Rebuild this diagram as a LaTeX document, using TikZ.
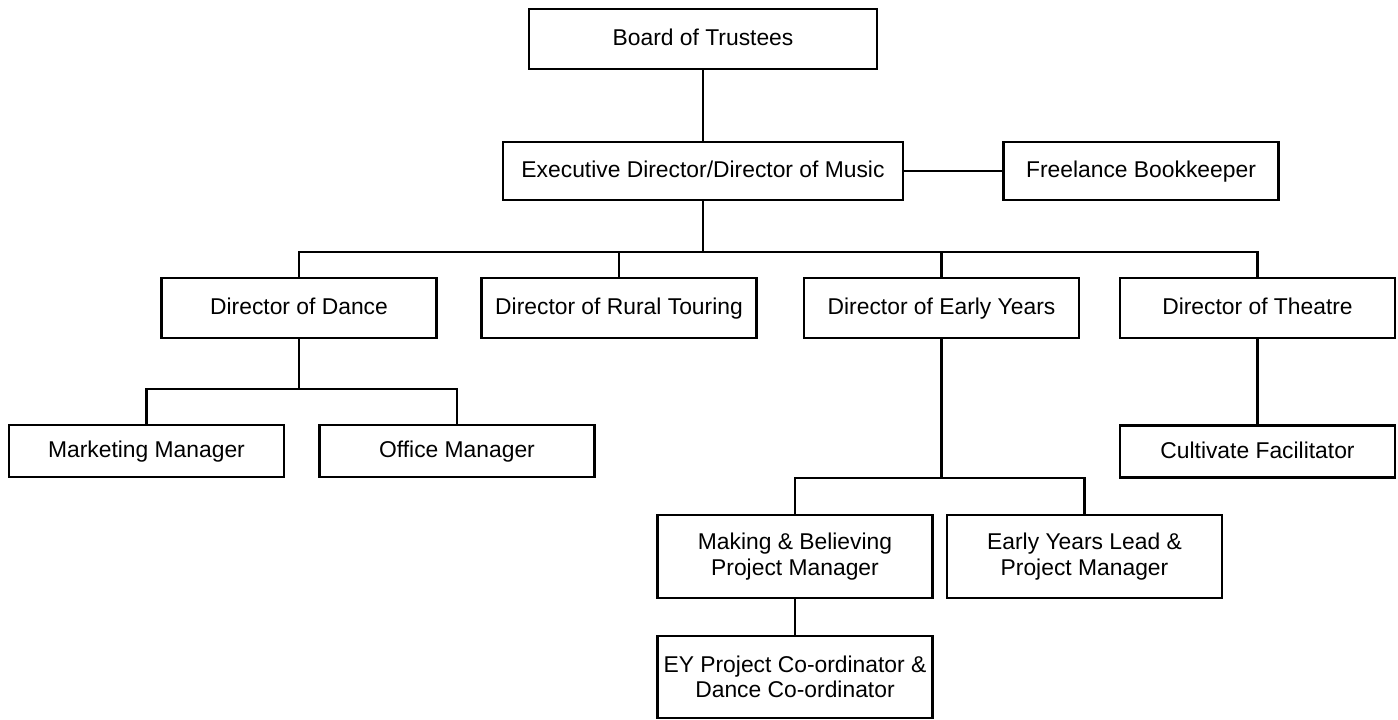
\documentclass[tikz,border=0pt]{standalone}
\usepackage{fontspec}
\setmainfont{Liberation Sans}
\usepackage{tikz}
\usetikzlibrary{positioning}

\begin{document}
\begin{tikzpicture}[line width=1.2pt, node distance=2cm]

		% Define block styles
		\tikzstyle{box} = [rectangle, draw, minimum width=5.5cm, text centered, align=center, font=\fontsize{13}{14.5}\selectfont]
		\tikzstyle{post} = [box, minimum height=1.2cm, text height=1.5ex, text depth=0.1ex]
		\tikzstyle{staff} = [post, minimum height=1.04cm]
		\tikzstyle{project} = [box, minimum height=1.66cm]

		\useasboundingbox (0,0) rectangle (27.96,-14.4);

		% Nodes
		\node[post, minimum width=6.96cm] (board) at (14.06,-0.78) {Board of Trustees};
		\node[post, minimum width=8cm, minimum height=1.16cm, below of=board, node distance=2.64cm] (exec) {Executive Director/Director of Music};
		\node[post, minimum height=1.16cm, right of=exec, node distance=8.76cm] (bookkeeper) {Freelance Bookkeeper};

		\node[post] (dance) at (5.98,-6.16) {Director of Dance};
		\node[post, right of=dance, node distance=6.4cm] (rural) {Director of Rural Touring};
		\node[post, right of=rural, node distance=6.45cm] (early) {Director of Early Years};
		\node[post, right of=early, node distance=6.32cm] (theatre) {Director of Theatre};

		\node[staff] (marketing) at (2.93,-9.02) {Marketing Manager};
		\node[staff, right of=marketing, node distance=6.21cm] (office) {Office Manager};
		\node[staff, below of=theatre, node distance=2.87cm] (cultivate) {Cultivate Facilitator};

		\node[project] (making) at (15.9,-11.13) {Making \& Believing\\Project Manager};
		\node[project, right of=making, node distance=5.79cm] (eylead) {Early Years Lead \&\\Project Manager};
		\node[project, minimum height=1.64cm, below of=making, node distance=2.41cm] (eycoord) {EY Project Co-ordinator \&\\Dance Co-ordinator};

		% Lines
		\draw (board) -- (exec);
		\draw (exec) -- (bookkeeper);
		\draw (dance.north) -- ++(0,0.5) -| (exec.south);
		\draw (rural.north) -- ++(0,0.5) -| (exec.south);
		\draw (early.north) -- ++(0,0.5) -| (exec.south);
		\draw (theatre.north) -- ++(0,0.5) -| (exec.south);

		\draw (marketing.north) -- ++(0,0.7) -| (dance.south);
		\draw (office.north) -- ++(0,0.7) -| (dance.south);
		\draw (theatre) -- (cultivate);

		\draw (making.north) -- ++(0,0.72) -| (early.south);
		\draw (eylead.north) -- ++(0,0.72) -| (early.south);
		\draw (making) -- (eycoord);

	\end{tikzpicture}
\end{document}
